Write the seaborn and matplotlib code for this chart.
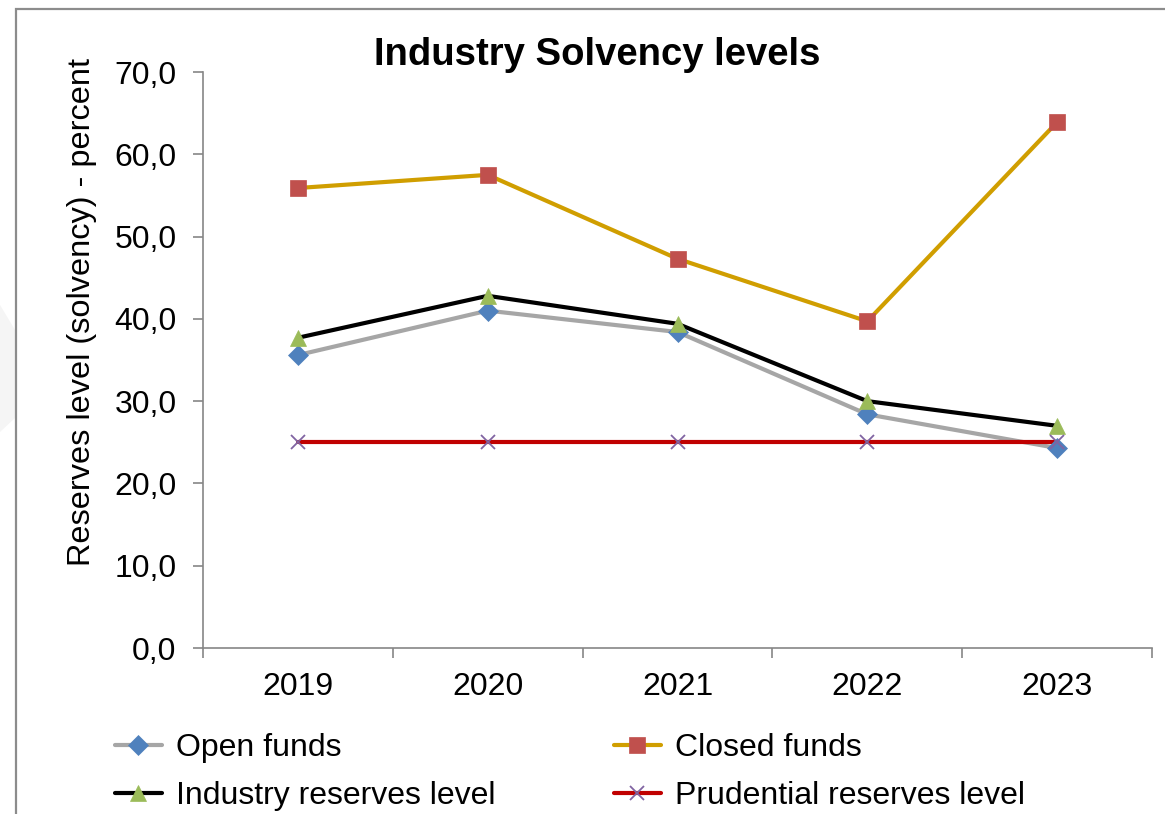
import matplotlib
matplotlib.use("Agg")
import matplotlib.pyplot as plt
from matplotlib.lines import Line2D
from matplotlib.patches import Rectangle, Polygon
from matplotlib.ticker import FixedLocator, FixedFormatter
import pandas as pd
import seaborn as sns

# Series values (percent)
years = ["2019", "2020", "2021", "2022", "2023"]
open_funds = [35.6, 41.0, 38.4, 28.4, 24.3]
closed_funds = [55.9, 57.5, 47.3, 39.7, 63.9]
industry_level = [37.7, 42.8, 39.4, 30.0, 27.0]
prudential_level = [25.0, 25.0, 25.0, 25.0, 25.0]

y_ticks = [0, 10, 20, 30, 40, 50, 60, 70]
y_tick_labels = ["0,0", "10,0", "20,0", "30,0", "40,0", "50,0", "60,0", "70,0"]

series_names = ["Open funds", "Closed funds", "Industry reserves level",
                "Prudential reserves level"]
series_values = [open_funds, closed_funds, industry_level, prudential_level]
line_colors = ["#A6A6A6", "#D09E00", "#000000", "#C00000"]
marker_colors = ["#4F81BD", "#C0504D", "#9BBB59", "#8064A2"]
marker_shapes = ["D", "s", "^", "x"]
marker_sizes = [10.5, 11, 12, 10.5]

sns.set_style("white")
plt.rcParams["font.family"] = ["Liberation Sans", "DejaVu Sans"]
plt.rcParams["text.color"] = "black"

fig = plt.figure(figsize=(11.65, 8.14), dpi=100)
ax = fig.add_axes([203 / 1165, 1 - 648 / 814, 949 / 1165, 576 / 814])

x_pos = list(range(len(years)))
for name, vals, lc, mc, mk, ms in zip(series_names, series_values, line_colors,
                                      marker_colors, marker_shapes, marker_sizes):
    df = pd.DataFrame({"x": x_pos, "value": vals})
    sns.lineplot(data=df, x="x", y="value", ax=ax, color=lc, linewidth=3.0,
                 legend=False, zorder=2)
    ax.plot(x_pos, vals, linestyle="none", marker=mk, markersize=ms,
            markerfacecolor=mc, markeredgecolor=mc,
            markeredgewidth=1.3 if mk == "x" else 0.5, zorder=3)

ax.set_xlim(-0.5, len(years) - 0.5)
ax.set_ylim(0, 70)

# Category axis: tick marks between categories, labels centred
ax.xaxis.set_major_locator(FixedLocator([i - 0.5 for i in range(len(years) + 1)]))
ax.xaxis.set_major_formatter(FixedFormatter([""] * (len(years) + 1)))
ax.xaxis.set_minor_locator(FixedLocator(x_pos))
ax.xaxis.set_minor_formatter(FixedFormatter(years))
ax.tick_params(axis="x", which="major", direction="out", length=7, width=1.2,
               color="#868686", bottom=True)
ax.tick_params(axis="x", which="minor", length=0, labelsize=23, pad=17,
               labelcolor="black")

ax.set_yticks(y_ticks)
ax.set_yticklabels(y_tick_labels)
ax.tick_params(axis="y", direction="out", length=7, width=1.2, color="#868686",
               labelsize=23, pad=12, left=True, labelcolor="black")

for side in ["top", "right"]:
    ax.spines[side].set_visible(False)
for side in ["left", "bottom"]:
    ax.spines[side].set_color("#868686")
    ax.spines[side].set_linewidth(1.2)

ax.set_xlabel("")
ax.set_ylabel("Reserves level (solvency) - percent", fontsize=23.4, color="black")
ax.yaxis.set_label_coords(-0.112, 0.583)

fig.text(597 / 1165, 1 - 55 / 814, "Industry Solvency levels", fontsize=27.5,
         fontweight="bold", ha="center", va="center", color="black")

handles = {name: Line2D([], [], color=lc, linewidth=3.0, marker=mk, markersize=ms,
                        markerfacecolor=mc, markeredgecolor=mc,
                        markeredgewidth=1.3 if mk == "x" else 0.5)
           for name, lc, mc, mk, ms in zip(series_names, line_colors, marker_colors,
                                           marker_shapes, marker_sizes)}
# Legend filled row by row: first column holds entries 1 and 3
legend_order = [series_names[0], series_names[2], series_names[1], series_names[3]]
leg = fig.legend([handles[n] for n in legend_order], legend_order, ncol=2,
                 loc="upper left", bbox_to_anchor=(115 / 1165, 1 - 733 / 814),
                 frameon=False, fontsize=23, handlelength=1.47, handletextpad=0.44,
                 columnspacing=3.7, labelspacing=0.56, borderaxespad=0, borderpad=0)
for t in leg.get_texts():
    t.set_color("black")

# Chart frame and faint left-edge shape
fig.patches.append(Rectangle((16 / 1165, -0.1), 1.2, 1.1 - 9.5 / 814,
                             transform=fig.transFigure, fill=False,
                             edgecolor="#8C8C8C", linewidth=1.6, clip_on=False))
fig.patches.append(Polygon([(0, 1 - 305 / 814), (15 / 1165, 1 - 330 / 814),
                            (15 / 1165, 1 - 418 / 814), (0, 1 - 432 / 814)],
                           closed=True, transform=fig.transFigure,
                           facecolor="#F5F5F5", edgecolor="none", zorder=0))

fig.savefig("out.png", dpi=100)
